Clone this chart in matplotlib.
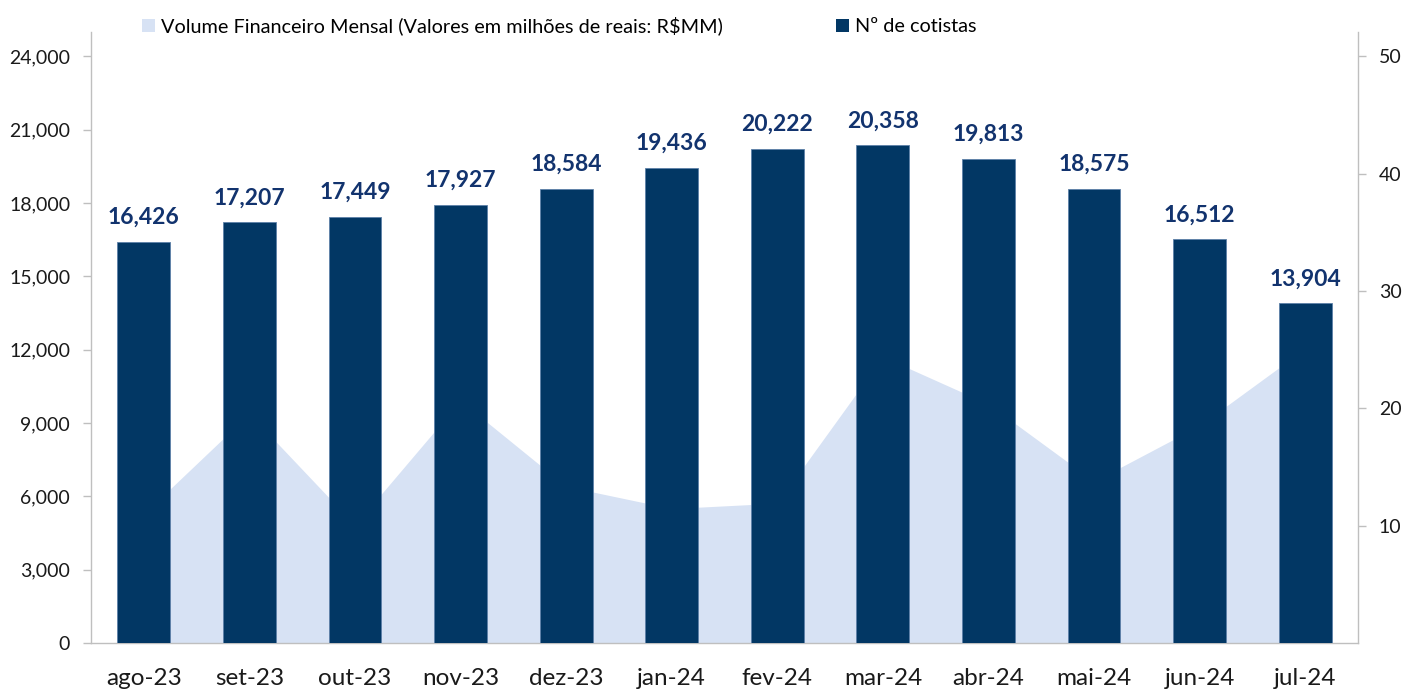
import matplotlib
matplotlib.use("Agg")
import matplotlib.pyplot as plt
from matplotlib.patches import Patch
from matplotlib.ticker import FuncFormatter

plt.rcParams["font.family"] = ["Lato", "DejaVu Sans"]

# ------------------------------------------------------------------ data ----
months = ["ago-23", "set-23", "out-23", "nov-23", "dez-23", "jan-24",
          "fev-24", "mar-24", "abr-24", "mai-24", "jun-24", "jul-24"]
cotistas = [16426, 17207, 17449, 17927, 18584, 19436,
            20222, 20358, 19813, 18575, 16512, 13904]
volume = [11.0, 19.55, 10.05, 20.66, 13.35, 11.46,
          11.92, 24.4, 20.37, 13.78, 18.53, 25.1]
left_ticks = [0, 3000, 6000, 9000, 12000, 15000, 18000, 21000, 24000]
right_ticks = [10, 20, 30, 40, 50]

BAR = "#023764"
AREA = "#d7e2f4"
LABEL = "#12336e"
AXIS = "#bfbfbf"
INK = "#1a1a1a"

fig = plt.figure(figsize=(14.03, 6.91), dpi=100)
ax = fig.add_axes([91 / 1403, 48 / 691, 1267 / 1403, 611 / 691])
ax2 = ax.twinx()
ax.set_zorder(2)
ax.patch.set_visible(False)

x = list(range(len(months)))

# volume area on the right axis, behind the bars
ax2.fill_between(x, 0, volume, color=AREA, lw=0, zorder=1)
ax2.set_ylim(0, 50 * 25000 / 24000)
ax2.set_yticks(right_ticks)

ax.bar(x, cotistas, width=0.5, color=BAR, edgecolor="#5d80a8",
       linewidth=0.6, zorder=3)
for xi, v in zip(x, cotistas):
    ax.annotate(f"{v:,}", (xi, v), xytext=(0, 10), textcoords="offset points",
                ha="center", va="bottom", fontsize=16.5, fontweight="bold",
                color=LABEL)

ax.set_xlim(-0.5, len(months) - 0.5)
ax.set_ylim(0, 25000)
ax.set_yticks(left_ticks)
ax.yaxis.set_major_formatter(FuncFormatter(lambda v, p: f"{int(v):,}"))
ax.set_xticks(x)
ax.set_xticklabels(months)

for a in (ax, ax2):
    for s in a.spines.values():
        s.set_color(AXIS)
        s.set_linewidth(1.0)
    a.spines["top"].set_visible(False)
ax.spines["right"].set_visible(False)
ax2.spines["left"].set_visible(False)
ax2.spines["bottom"].set_visible(False)

ax.tick_params(axis="y", length=6, width=1, color=AXIS, labelsize=14,
               labelcolor=INK, pad=9)
ax.tick_params(axis="x", length=0, labelsize=17.5, labelcolor=INK, pad=18)
ax2.tick_params(axis="y", length=6, width=1, color=AXIS, labelsize=14,
                labelcolor=INK, pad=9)

handles = [Patch(facecolor=AREA, edgecolor="none"),
           Patch(facecolor=BAR, edgecolor="none")]
fig.legend(handles,
           ["Volume Financeiro Mensal (Valores em milhões de reais: R$MM)",
            "Nº de cotistas"],
           loc="center left", bbox_to_anchor=(142 / 1403, 1 - 26 / 691),
           ncol=2, frameon=False, fontsize=14.3, handlelength=0.65,
           handleheight=0.65, handletextpad=0.3, columnspacing=5.7,
           borderpad=0, borderaxespad=0)

fig.savefig("out.png", dpi=100, facecolor="white")
